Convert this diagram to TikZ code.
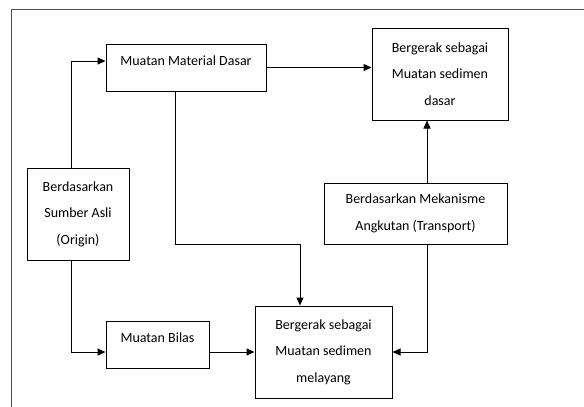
\documentclass[tikz,border=0pt]{standalone}
\usepackage{fontspec}
\setmainfont{Carlito}
\usepackage{tikz}
\usetikzlibrary{arrows.meta, positioning}
\definecolor{bingkai}{RGB}{80, 80, 80}

\begin{document}
\begin{tikzpicture}[x=1pt, y=-1pt,
    kotak/.style={draw, line width=1pt, inner sep=0pt, align=center,
      font=\fontsize{14}{26.5}\selectfont},
    muatan/.style={kotak, text height=21.5pt, text depth=25.5pt},
    panah/.style={line width=1pt, -{Triangle[length=8pt, width=7pt]}}]
    \useasboundingbox (0,0) rectangle (584,407);

    % bingkai luar (hanya sisi atas dan kiri yang terlihat)
    \draw[bingkai, line width=1pt] (584,9) -- (11,9) -- (11,407);

    % kotak-kotak
    \node[muatan, minimum width=160pt] (mmd) at (186,67.5) {Muatan Material Dasar};
    \node[kotak, minimum width=136pt, minimum height=92pt] (dasar) at (440,74)
        {Bergerak sebagai\\Muatan sedimen\\dasar};
    \node[kotak, minimum width=102pt, minimum height=92pt] (asli) at (78,214)
        {Berdasarkan\\Sumber Asli\\(Origin)};
    \node[kotak, minimum width=183pt, minimum height=61pt] (mek) at (415.5,213.5)
        {Berdasarkan Mekanisme\\Angkutan (Transport)};
    \node[muatan, minimum width=103pt] (bilas) at (157.5,344.5) {Muatan Bilas};
    \node[kotak, minimum width=137pt, minimum height=92pt] (mel) at (323.5,352)
        {Bergerak sebagai\\Muatan sedimen\\melayang};

    % titik belok
    \coordinate (s1) at (71.5,61);
    \coordinate (s2) at (71.5,352);
    \coordinate (s3) at (175,244);
    \coordinate (s4) at (300,244);
    \coordinate (s5) at (427,0);

    % panah
    \draw[panah] (asli.north -| s1) |- (mmd.west |- s1);
    \draw[panah] (asli.south -| s2) |- (bilas.west |- s2);
    \draw[panah] (bilas.east |- mel.west) -- (mel.west);
    \draw[panah] (mmd.south -| s3) -- (s3) -- (s4) -- (mel.north -| s4);
    \draw[panah] (mmd.east) -- (mmd.east -| dasar.west);
    \draw[panah] (mek.north -| s5) -- (dasar.south -| s5);
    \draw[panah] (mek.south -| s5) |- (mel.east);
\end{tikzpicture}
\end{document}
